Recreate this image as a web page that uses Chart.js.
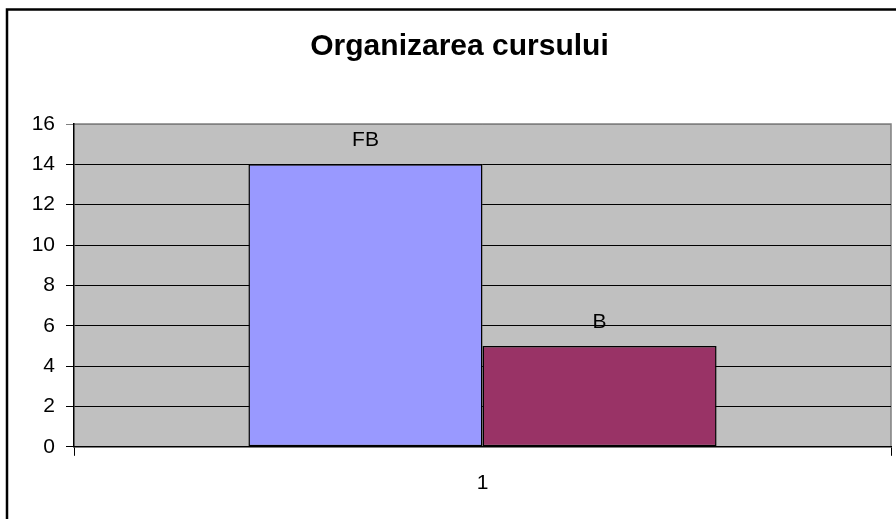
<!DOCTYPE html>
<html>
<head>
<meta charset="utf-8">
<script src="https://cdn.jsdelivr.net/npm/chart.js@4/dist/chart.umd.min.js"></script>
<style>
    html, body { margin: 0; padding: 0; background: #fff; }
    #wrap { width: 896px; height: 519px; }
</style>
</head>
<body>
<div id="wrap"><canvas id="cursChart" width="896" height="519"></canvas></div>
<script>
// Datele graficului
const categorii = ["1"];
const serii = ["FB", "B"];
const valoriFB = [14];
const valoriB = [5];
const culori = ["#9999ff", "#993366"];

document.addEventListener("DOMContentLoaded", function () {
    Chart.defaults.font.family = "'Liberation Sans', Arial, sans-serif";
    Chart.defaults.color = "#000";

    // fundal gri al zonei de desen + chenarul exterior
    const fundal = {
        id: "fundal",
        beforeDraw(chart) {
            const ctx = chart.ctx;
            const a = chart.chartArea;
            ctx.save();
            ctx.fillStyle = "#c0c0c0";
            ctx.fillRect(a.left, a.top, a.right - a.left, a.bottom - a.top);
            ctx.strokeStyle = "#808080";
            ctx.lineWidth = 1.5;
            ctx.beginPath();
            ctx.moveTo(a.left, a.top);
            ctx.lineTo(a.right, a.top);
            ctx.lineTo(a.right, a.bottom);
            ctx.stroke();
            // chenar exterior (stanga si sus)
            ctx.strokeStyle = "#000";
            ctx.lineWidth = 2.5;
            ctx.beginPath();
            ctx.moveTo(7, chart.height);
            ctx.lineTo(7, 9.5);
            ctx.lineTo(chart.width, 9.5);
            ctx.stroke();
            ctx.restore();
        }
    };

    // etichete deasupra barelor
    const etichete = {
        id: "etichete",
        afterDatasetsDraw(chart) {
            const ctx = chart.ctx;
            ctx.save();
            ctx.font = "21px 'Liberation Sans', Arial, sans-serif";
            ctx.fillStyle = "#000";
            ctx.textAlign = "center";
            ctx.textBaseline = "middle";
            chart.data.datasets.forEach(function (ds, i) {
                chart.getDatasetMeta(i).data.forEach(function (bar) {
                    ctx.fillText(ds.label, bar.x, bar.y - 24);
                });
            });
            ctx.restore();
        }
    };

    const ctx = document.getElementById("cursChart").getContext("2d");
    new Chart(ctx, {
        type: "bar",
        data: {
            labels: categorii,
            datasets: [
                {
                    label: serii[0],
                    data: valoriFB,
                    backgroundColor: culori[0],
                    borderColor: "#000",
                    borderWidth: 1.5,
                    borderSkipped: false
                },
                {
                    label: serii[1],
                    data: valoriB,
                    backgroundColor: culori[1],
                    borderColor: "#000",
                    borderWidth: 1.5,
                    borderSkipped: false
                }
            ]
        },
        options: {
            responsive: false,
            animation: false,
            layout: {
                padding: { left: 28, right: 5, top: 0, bottom: 8 }
            },
            datasets: {
                bar: { categoryPercentage: 0.573, barPercentage: 1 }
            },
            plugins: {
                legend: { display: false },
                tooltip: { enabled: false },
                title: {
                    display: true,
                    text: "Organizarea cursului",
                    color: "#000",
                    font: { size: 30, weight: "bold" },
                    padding: { top: 29, bottom: 59 }
                }
            },
            scales: {
                x: {
                    grid: {
                        offset: true,
                        drawOnChartArea: false,
                        drawTicks: true,
                        tickLength: 9,
                        color: "#000"
                    },
                    border: { color: "#000", width: 1.5 },
                    ticks: {
                        font: { size: 21 },
                        color: "#000",
                        padding: 15
                    }
                },
                y: {
                    min: 0,
                    max: 16,
                    afterFit(scale) { scale.width = 46; },
                    grid: {
                        color: function (c) {
                            return c.tick && c.tick.value === 16 ? "#808080" : "#000";
                        },
                        lineWidth: 1,
                        tickLength: 8
                    },
                    border: { color: "#000", width: 1.5 },
                    ticks: {
                        stepSize: 2,
                        font: { size: 21 },
                        color: "#000",
                        padding: 11
                    }
                }
            }
        },
        plugins: [fundal, etichete]
    });
});
</script>
</body>
</html>
